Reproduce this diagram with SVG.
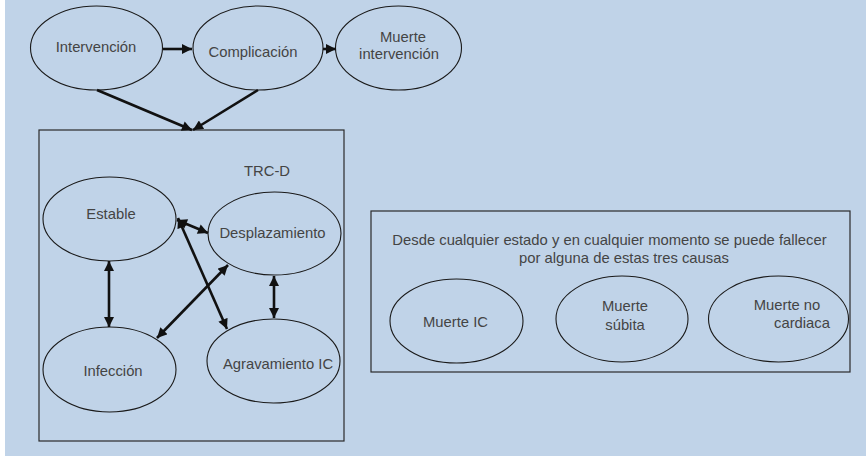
<svg xmlns="http://www.w3.org/2000/svg" width="866" height="456" viewBox="0 0 866 456">
<defs>
<style>
.n ellipse{fill:none;stroke:#1a1a1a;stroke-width:1.1}
text{font-family:"Liberation Sans",Arial,sans-serif;font-size:14.8px;fill:#444;text-anchor:middle}
.box{fill:none;stroke:#2a2a2a;stroke-width:1.2}
.e{stroke:#111;stroke-width:2.6;fill:none}
</style>
<marker id="ah" viewBox="0 0 10 10" refX="10" refY="5" markerWidth="11" markerHeight="10" markerUnits="userSpaceOnUse" orient="auto-start-reverse">
<path d="M0,0 L10,5 L0,10 z" fill="#111"/>
</marker>
</defs>
<rect x="0" y="0" width="866" height="456" fill="#ffffff"/>
<rect x="5" y="0" width="861" height="456" fill="#c0d3e8"/>
<rect class="box" x="39" y="130" width="305" height="311"/>
<rect class="box" x="371" y="211" width="479" height="161"/>
<g id="intervencion" class="n"><ellipse cx="96.5" cy="48" rx="66" ry="42"/><text x="96" y="51.5">Intervención</text></g>
<g id="complicacion" class="n"><ellipse cx="258" cy="48" rx="65" ry="42"/><text x="253" y="57">Complicación</text></g>
<g id="muerte-intervencion" class="n"><ellipse cx="398.5" cy="48" rx="63" ry="42"/><text x="403" y="42">Muerte</text><text x="399" y="59">intervención</text></g>
<g id="trcd"><text x="267" y="176">TRC-D</text></g>
<g id="estable" class="n"><ellipse cx="109.5" cy="219" rx="66.5" ry="42"/><text x="111" y="219">Estable</text></g>
<g id="desplazamiento" class="n"><ellipse cx="274.5" cy="233.5" rx="66.5" ry="41.5"/><text x="272.5" y="238">Desplazamiento</text></g>
<g id="infeccion" class="n"><ellipse cx="109.5" cy="369.5" rx="66.5" ry="42.5"/><text x="113" y="376">Infección</text></g>
<g id="agravamiento" class="n"><ellipse cx="273.5" cy="361" rx="66.5" ry="42"/><text x="278" y="369">Agravamiento IC</text></g>
<g id="nota"><text x="609.5" y="245">Desde cualquier estado y en cualquier momento se puede fallecer</text><text x="624" y="263">por alguna de estas tres causas</text></g>
<g id="muerte-ic" class="n"><ellipse cx="456.5" cy="321" rx="66.5" ry="42"/><text x="455.5" y="327">Muerte IC</text></g>
<g id="muerte-subita" class="n"><ellipse cx="622" cy="319" rx="66" ry="43"/><text x="625" y="311">Muerte</text><text x="625" y="330">súbita</text></g>
<g id="muerte-no-cardiaca" class="n"><ellipse cx="778.5" cy="319" rx="70" ry="43"/><text x="787" y="310">Muerte no</text><text x="802" y="328">cardiaca</text></g>
<g id="connectors">
<line class="e" x1="163" y1="49" x2="192" y2="49" marker-end="url(#ah)"/>
<line class="e" x1="323" y1="49" x2="336" y2="49" marker-end="url(#ah)"/>
<line class="e" x1="97" y1="90" x2="192" y2="130" marker-end="url(#ah)"/>
<line class="e" x1="258" y1="90" x2="193" y2="130" marker-end="url(#ah)"/>
<line class="e" x1="109" y1="261" x2="109" y2="327" marker-start="url(#ah)" marker-end="url(#ah)"/>
<line class="e" x1="177" y1="220" x2="208" y2="233" marker-start="url(#ah)" marker-end="url(#ah)"/>
<line class="e" x1="178" y1="218" x2="227" y2="329" marker-start="url(#ah)" marker-end="url(#ah)"/>
<line class="e" x1="228" y1="265" x2="157" y2="338" marker-start="url(#ah)" marker-end="url(#ah)"/>
<line class="e" x1="274" y1="276" x2="274" y2="318" marker-start="url(#ah)" marker-end="url(#ah)"/>
</g>
</svg>
